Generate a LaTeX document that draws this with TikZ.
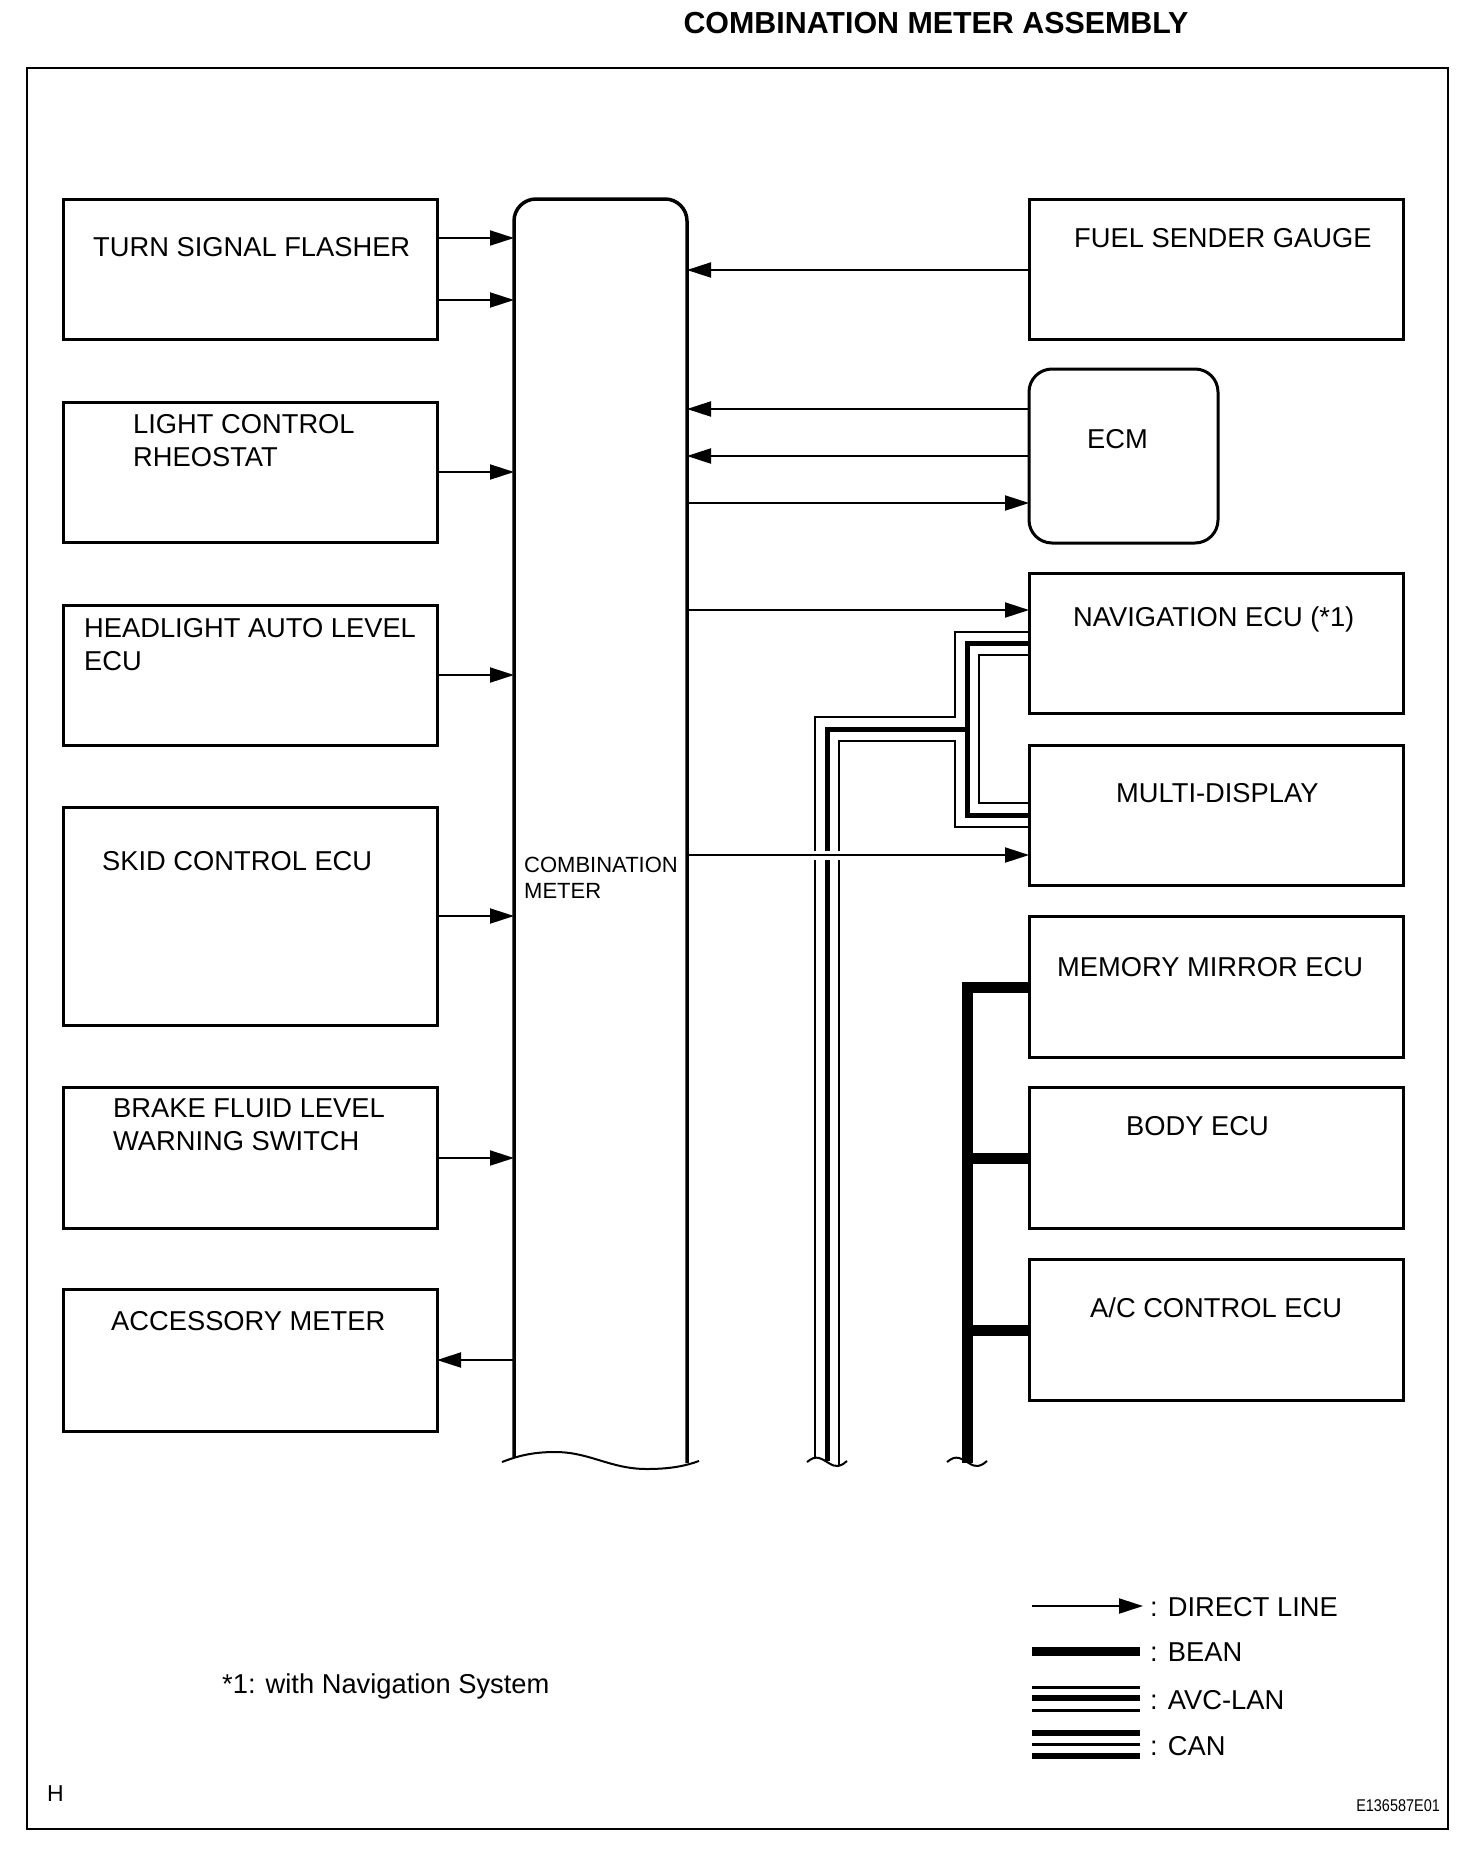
\documentclass[tikz,border=0pt]{standalone}
\usepackage{fontspec}
\setmainfont{Liberation Sans}
\usetikzlibrary{arrows.meta}
\begin{document}
\begin{tikzpicture}[x=1pt,y=-1pt,
  box/.style={draw, line width=3pt, minimum width=374pt, minimum height=#1, anchor=north west, inner sep=0pt, outer sep=0pt},
  lbl/.style={anchor=base west, inner sep=0pt, font=\fontsize{27.3}{33}\selectfont},
  arr/.style={line width=2pt, -{Triangle[length=24pt,width=15pt]}},
  thin/.style={line width=2.3pt, line join=miter},
  thick/.style={line width=5pt, line join=miter},
  bean/.style={line width=11pt, line join=miter},
  wave/.style={line width=2pt}
]
\useasboundingbox (0,0) rectangle (1472,1852);
% frame
\draw[line width=2.2pt] (27,68) rectangle (1448,1829);
\node[anchor=base, inner sep=0pt, font=\fontsize{30.4}{34}\selectfont\bfseries] (title) at (936,34) {COMBINATION METER ASSEMBLY};

% left boxes
\node[box=140pt] (tsf) at (63,199) {};
\node[box=140pt] (lcr) at (63,402) {};
\node[box=140pt] (hal) at (63,605) {};
\node[box=218pt] (skid) at (63,807) {};
\node[box=141pt] (brk) at (63,1087) {};
\node[box=142pt] (acc) at (63,1289) {};
\node[lbl] (tsfL) at (93,256) {TURN SIGNAL FLASHER};
\node[lbl] (lcrL1) at (133,433) {LIGHT CONTROL};
\node[lbl] (lcrL2) at (133,466) {RHEOSTAT};
\node[lbl] (halL1) at (84,637) {HEADLIGHT AUTO LEVEL};
\node[lbl] (halL2) at (84,670) {ECU};
\node[lbl] (skidL) at (102,870) {SKID CONTROL ECU};
\node[lbl] (brkL1) at (113,1117) {BRAKE FLUID LEVEL};
\node[lbl] (brkL2) at (113,1150) {WARNING SWITCH};
\node[lbl] (accL) at (111,1330) {ACCESSORY METER};

% right boxes
\node[box=140pt] (fuel) at (1029,199) {};
\node[box=174pt, minimum width=189pt, rounded corners=23pt] (ecm) at (1029,369) {};
\node[box=140pt] (nav) at (1029,573) {};
\node[box=140pt] (md) at (1029,745) {};
\node[box=141pt] (mm) at (1029,916) {};
\node[box=141pt] (body) at (1029,1087) {};
\node[box=141pt] (ac) at (1029,1259) {};
\node[lbl] (fuelL) at (1074,247) {FUEL SENDER GAUGE};
\node[lbl] (ecmL) at (1087,448) {ECM};
\node[lbl] (navL) at (1073,626) {NAVIGATION ECU (*1)};
\node[lbl] (mdL) at (1116,802) {MULTI-DISPLAY};
\node[lbl] (mmL) at (1057,976) {MEMORY MIRROR ECU};
\node[lbl] (bodyL) at (1126,1135) {BODY ECU};
\node[lbl] (acL) at (1090,1317) {A/C CONTROL ECU};

% combination meter
\node[minimum width=173pt, minimum height=1261pt, anchor=north west, inner sep=0pt, outer sep=0pt] (cm) at (514,199) {};
\draw[line width=3.5pt, rounded corners=22pt] (cm.west |- 0,1457) -- (cm.north west) -- (cm.north east) -- (cm.east |- 0,1463);
\draw[wave] (502,1462) .. controls (520,1455) and (535,1452) .. (555,1452) .. controls (590,1452) and (610,1469) .. (647,1469) .. controls (670,1469) and (685,1466) .. (699,1461);
\node[anchor=base west, inner sep=0pt, font=\fontsize{22}{26}\selectfont] (cmL1) at (524,872) {COMBINATION};
\node[anchor=base west, inner sep=0pt, font=\fontsize{22}{26}\selectfont] (cmL2) at (524,898) {METER};

% left arrows
\draw[arr] (tsf.east |- 0,238) -- (cm.west |- 0,238);
\draw[arr] (tsf.east |- 0,300) -- (cm.west |- 0,300);
\draw[arr] (lcr.east |- 0,472) -- (cm.west |- 0,472);
\draw[arr] (hal.east |- 0,675) -- (cm.west |- 0,675);
\draw[arr] (skid.east |- 0,916) -- (cm.west |- 0,916);
\draw[arr] (brk.east |- 0,1158) -- (cm.west |- 0,1158);
\draw[arr] (cm.west |- 0,1360) -- (acc.east |- 0,1360);

% right arrows
\draw[arr] (fuel.west |- 0,270) -- (cm.east |- 0,270);
\draw[arr] (ecm.west |- 0,409) -- (cm.east |- 0,409);
\draw[arr] (ecm.west |- 0,456) -- (cm.east |- 0,456);
\draw[arr] (cm.east |- 0,503) -- (ecm.west |- 0,503);
\draw[arr] (cm.east |- 0,610) -- (nav.west |- 0,610);

% AVC-LAN bundle
\coordinate (bA) at (815,1459);
\coordinate (bB) at (827,1461);
\coordinate (bC) at (839,1466);
\draw[thin] (bA) -- (815,717) -- (955,717) -- (955,632) -- (nav.west |- 0,632);
\draw[thick] (bB) -- (827,729) -- (967,729);
\draw[thick] (nav.west |- 0,643) -- (967,643) -- (967,815) -- (md.west |- 0,815);
\draw[thin] (bC) -- (839,741) -- (955,741) -- (955,827) -- (md.west |- 0,827);
\draw[thin] (nav.west |- 0,655) -- (979,655) -- (979,803) -- (md.west |- 0,803);
\draw[wave] (807,1462) .. controls (812,1458) and (815,1457) .. (819,1458) .. controls (826,1460) and (832,1467) .. (838,1466) .. controls (842,1465) and (845,1463) .. (847,1461);

% crossing gap and arrow to multi-display
\draw[white, line width=9pt] (806,855) -- (850,855);
\draw[arr] (cm.east |- 0,855) -- (md.west |- 0,855);

% BEAN
\coordinate (bn) at (967,1463);
\draw[bean] (bn) -- (967,987) -- (mm.west |- 0,987);
\draw[bean] (967,1158) -- (body.west |- 0,1158);
\draw[bean] (967,1330) -- (ac.west |- 0,1330);
\draw[wave] (947,1462) .. controls (952,1458) and (955,1457) .. (959,1458) .. controls (966,1460) and (972,1467) .. (978,1466) .. controls (982,1465) and (985,1463) .. (987,1461);

% legend
\coordinate (l1a) at (1032,1606); \coordinate (l1b) at (1143,1606);
\draw[arr] (l1a) -- (l1b);
\node[lbl] (lg1) at (1150,1616) {: DIRECT LINE};
\coordinate (l2a) at (1032,1651); \coordinate (l2b) at (1140,1651);
\draw[line width=9pt] (l2a) -- (l2b);
\node[lbl] (lg2) at (1150,1661) {: BEAN};
\draw[line width=3pt] (1032,1687) -- (1140,1687);
\draw[line width=6pt] (1032,1698) -- (1140,1698);
\draw[line width=3pt] (1032,1710) -- (1140,1710);
\node[lbl] (lg3) at (1150,1709) {: AVC-LAN};
\draw[line width=6pt] (1032,1733) -- (1140,1733);
\draw[line width=3pt] (1032,1744) -- (1140,1744);
\draw[line width=6pt] (1032,1756) -- (1140,1756);
\node[lbl] (lg4) at (1150,1755) {: CAN};

\node[lbl] (note) at (222,1693) {*1: with Navigation System};
\node[anchor=base west, inner sep=0pt, font=\fontsize{23}{26}\selectfont] (hL) at (47,1801) {H};
\node[anchor=base east, inner sep=0pt, xscale=0.85, font=\fontsize{17}{20}\selectfont] (code) at (1440,1811) {E136587E01};
\end{tikzpicture}
\end{document}
